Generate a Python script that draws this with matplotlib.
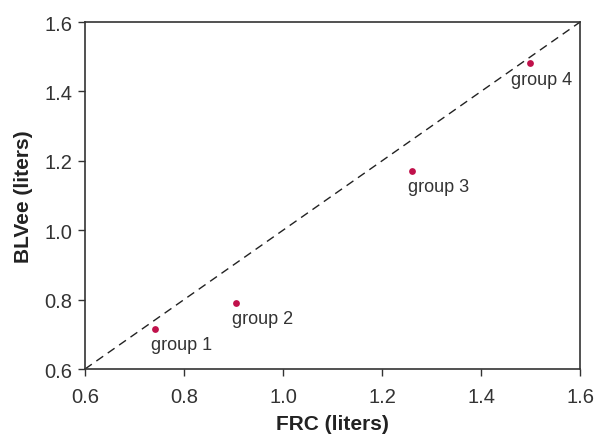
import matplotlib
matplotlib.use("Agg")
import matplotlib.pyplot as plt

plt.rcParams['font.family'] = ['Liberation Sans', 'DejaVu Sans']

groups = ["group 1", "group 2", "group 3", "group 4"]
frc = [0.741, 0.905, 1.26, 1.498]
blvee = [0.715, 0.790, 1.171, 1.482]
ticks = [0.6, 0.8, 1.0, 1.2, 1.4, 1.6]
tick_labels = ["0.6", "0.8", "1.0", "1.2", "1.4", "1.6"]

fig = plt.figure(figsize=(5.96, 4.35), dpi=100)
ax = fig.add_axes([0.1426, 0.1494, 0.9732 - 0.1426, 0.947 - 0.1494])

ax.plot([0.6, 1.6], [0.6, 1.6], color='#222222', lw=1.0, linestyle=(0, (6, 4)))
ax.scatter(frc, blvee, s=24, color='#C0114B', zorder=3, linewidths=0)
label_dx = [-3, -3, -3, -13]
label_dy = [-5, -5, -5, -6]
for g, x, y, dx, dy in zip(groups, frc, blvee, label_dx, label_dy):
    ax.annotate(g, (x, y), xytext=(dx, dy), textcoords='offset points',
                ha='left', va='top', fontsize=13, color='#333333')

ax.set_xlim(0.6, 1.6)
ax.set_ylim(0.6, 1.6)
ax.set_xticks(ticks)
ax.set_xticklabels(tick_labels)
ax.set_yticks(ticks)
ax.set_yticklabels(tick_labels)
ax.tick_params(direction='out', length=5, width=1, colors='#333333', labelsize=14.5)
ax.tick_params(axis='x', pad=8)
ax.tick_params(axis='y', pad=4)
for s in ax.spines.values():
    s.set_color('#333333')
    s.set_linewidth(1.2)

ax.set_xlabel("FRC (liters)", fontsize=15, fontweight='bold', color='#222222', labelpad=6)
ax.set_ylabel("BLVee (liters)", fontsize=15, fontweight='bold', color='#222222', labelpad=8)

fig.savefig("out.png", dpi=100)
